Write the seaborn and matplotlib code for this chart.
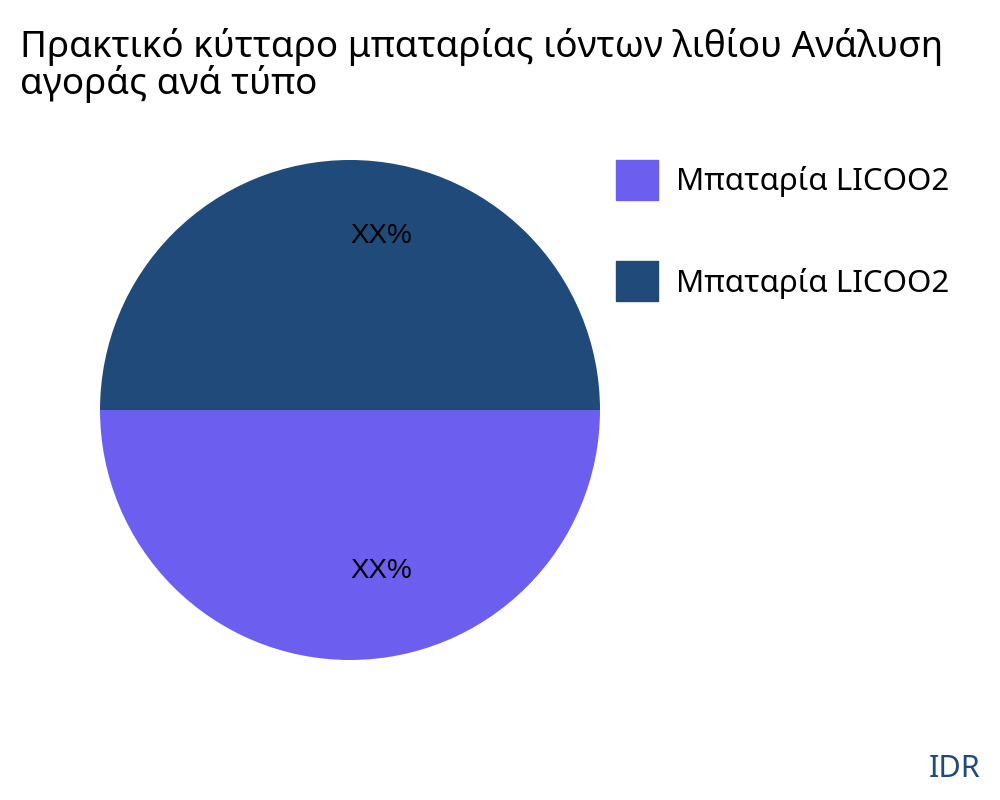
import matplotlib
matplotlib.use("Agg")
import matplotlib.pyplot as plt
import seaborn as sns
from matplotlib.patches import Patch

sns.set_theme(style="white")
plt.rcParams['font.family'] = ['Noto Sans', 'DejaVu Sans']
plt.rcParams['text.color'] = 'black'

categories = ["Μπαταρία LICOO2", "Μπαταρία LICOO2"]
values = [50, 50]
labels = ["XX%", "XX%"]
colors = ["#6C5FF0", "#1F4A7A"]

fig = plt.figure(figsize=(10, 8), dpi=100)
ax = fig.add_axes([0.1, 0.175, 0.5, 0.625])
wedges, texts = ax.pie(values, colors=colors, startangle=180, labels=labels,
                       labeldistance=0.67, wedgeprops=dict(linewidth=0),
                       textprops=dict(fontsize=20, color='black',
                                      family=['Liberation Sans', 'DejaVu Sans']))
for t in texts:
    t.set_ha('left')
    t.set_va('baseline')
ax.set_xlim(-1, 1)
ax.set_ylim(-1, 1)
ax.set_aspect('equal')

fig.text(0.02, 0.965, "Πρακτικό κύτταρο μπαταρίας ιόντων λιθίου Ανάλυση\nαγοράς ανά τύπο",
         fontsize=26.5, va='top', ha='left', linespacing=0.95, color='black')

handles = [Patch(color=c) for c in colors]
fig.legend(handles, categories, loc='upper left', bbox_to_anchor=(0.588, 0.835),
           frameon=False, fontsize=22.5, handlelength=1.33, handleheight=1.6,
           labelspacing=1.95, handletextpad=0.6, labelcolor='black')

fig.text(0.98, 0.02, "IDR", fontsize=22, color="#1F4A7A", ha='right', va='bottom')
fig.savefig("out.png", dpi=100, facecolor='white')
